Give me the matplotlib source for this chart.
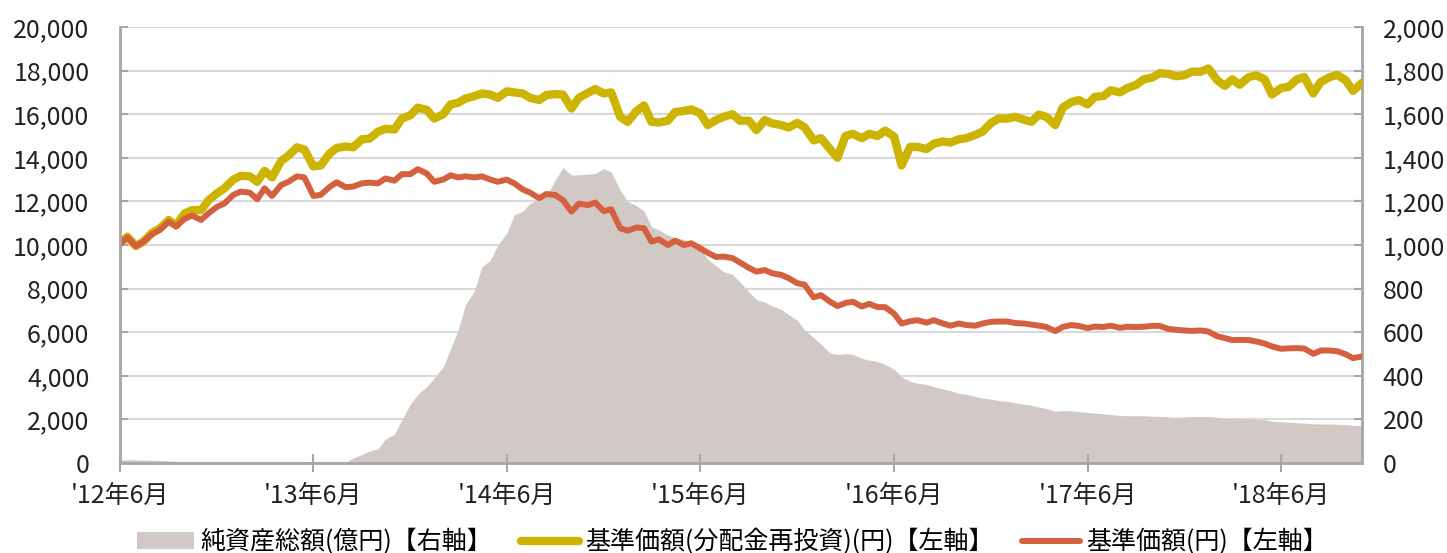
import numpy as np
import pandas as pd
import matplotlib
matplotlib.use("Agg")
import matplotlib.pyplot as plt
from matplotlib.ticker import FuncFormatter, MultipleLocator

plt.rcParams['font.family'] = ['Noto Sans CJK JP', 'DejaVu Sans']

# semi-monthly sampling, Jun 2012 - Nov 2018
dates = pd.date_range("2012-06-01", periods=155, freq="SMS")

# 基準価額(分配金再投資)(円)  left axis
nav_reinvest = [
    10080, 10380, 9950, 10150, 10570, 10750, 11150, 10900, 11450, 11600,
    11600, 12050, 12370, 12600, 13000, 13170, 13150, 12900, 13400, 13100,
    13850, 14100, 14480, 14380, 13600, 13650, 14180, 14450, 14520, 14480,
    14850, 14880, 15200, 15330, 15300, 15800, 15950, 16300, 16200, 15800,
    16000, 16450, 16520, 16720, 16830, 16950, 16900, 16750, 17050, 17000,
    16950, 16750, 16650, 16880, 16920, 16900, 16260, 16750, 16980, 17150,
    16950, 17000, 15880, 15650, 16150, 16400, 15650, 15620, 15700, 16100,
    16150, 16220, 16050, 15500, 15730, 15880, 16000, 15700, 15700, 15270,
    15730, 15580, 15500, 15390, 15600, 15400, 14800, 14900, 14400, 14000,
    15000, 15100, 14900, 15100, 15000, 15250, 14970, 13650, 14500, 14500,
    14400, 14650, 14750, 14700, 14850, 14900, 15050, 15200, 15600, 15800,
    15800, 15880, 15750, 15650, 15980, 15880, 15500, 16300, 16550, 16650,
    16450, 16800, 16830, 17100, 17000, 17200, 17350, 17600, 17680, 17880,
    17850, 17740, 17790, 17950, 17950, 18100, 17550, 17300, 17600, 17350,
    17700, 17780, 17600, 16900, 17200, 17250, 17600, 17700, 16950, 17480,
    17700, 17800, 17560, 17070, 17440,
]

# 基準価額(円)  left axis
nav = [
    10050, 10350, 9950, 10150, 10500, 10690, 11070, 10850, 11200, 11350,
    11150, 11450, 11750, 11900, 12300, 12450, 12400, 12100, 12600, 12250,
    12750, 12900, 13150, 13100, 12250, 12300, 12650, 12880, 12650, 12680,
    12830, 12860, 12830, 13050, 12950, 13250, 13250, 13480, 13280, 12900,
    13000, 13200, 13100, 13150, 13100, 13150, 13000, 12900, 13000, 12830,
    12550, 12400, 12150, 12340, 12290, 12060, 11530, 11900, 11830, 11950,
    11550, 11640, 10770, 10660, 10800, 10770, 10160, 10260, 10000, 10200,
    10000, 10080, 9850, 9650, 9450, 9470, 9400, 9200, 8950, 8780,
    8850, 8700, 8630, 8480, 8250, 8180, 7600, 7700, 7400, 7200,
    7340, 7400, 7180, 7300, 7150, 7150, 6850, 6400, 6500, 6550,
    6440, 6550, 6400, 6300, 6400, 6330, 6300, 6400, 6480, 6490,
    6490, 6420, 6400, 6350, 6300, 6240, 6050, 6240, 6330, 6290,
    6190, 6260, 6240, 6300, 6200, 6250, 6240, 6250, 6290, 6290,
    6150, 6110, 6080, 6060, 6080, 6030, 5810, 5730, 5640, 5650,
    5640, 5580, 5480, 5350, 5240, 5260, 5270, 5250, 5010, 5160,
    5160, 5130, 4990, 4810, 4890,
]

# 純資産総額(億円)  right axis
net_assets = [
    15, 15, 15, 14, 13, 12, 10, 8, 6, 5,
    4, 3, 3, 2, 2, 2, 2, 2, 2, 2,
    2, 2, 2, 2, 2, 2, 2, 2, 3, 23,
    40, 55, 65, 110, 132, 200, 270, 315, 350, 390,
    440, 525, 610, 725, 790, 900, 930, 1000, 1055, 1138,
    1155, 1192, 1210, 1225, 1300, 1355, 1321, 1322, 1325, 1328,
    1350, 1335, 1252, 1199, 1180, 1155, 1084, 1069, 1045, 1033,
    1025, 1012, 985, 935, 905, 878, 865, 830, 785, 750,
    738, 720, 705, 680, 655, 610, 575, 545, 505, 498,
    502, 499, 480, 472, 465, 452, 430, 395, 375, 366,
    360, 350, 340, 332, 320, 315, 305, 298, 293, 287,
    283, 276, 270, 265, 257, 250, 238, 240, 240, 236,
    232, 229, 226, 222, 218, 217, 217, 217, 215, 214,
    212, 210, 211, 213, 214, 213, 210, 205, 203, 202,
    201, 200, 199, 192, 189, 187, 185, 183, 180, 179,
    179, 178, 176, 173, 171,
]

tick_dates = pd.date_range("2012-06-01", "2018-06-01", freq="12MS")
tick_labels = ["'12年6月", "'13年6月", "'14年6月", "'15年6月",
               "'16年6月", "'17年6月", "'18年6月"]

label_assets = "純資産総額(億円)【右軸】"
label_reinvest = "基準価額(分配金再投資)(円)【左軸】"
label_nav = "基準価額(円)【左軸】"

c_yellow = "#CCB400"
c_red = "#D4603F"
c_area = "#D1C9C6"
c_axis = "#A6A6A6"
c_grid = "#D9D9D9"

fig = plt.figure(figsize=(14.47, 5.53), dpi=100)
ax1 = fig.add_axes([0.0829, 0.1627, 0.8584, 0.7885])
ax2 = ax1.twinx()
ax1.set_zorder(2)
ax2.set_zorder(1)
ax1.patch.set_visible(False)

# area on the right axis
ax2.fill_between(dates, net_assets, 0, color=c_area, linewidth=0, zorder=2,
                 label=label_assets)
ax2.set_ylim(0, 2000)
ax2.yaxis.set_major_locator(MultipleLocator(200))
ax2.yaxis.set_major_formatter(FuncFormatter(lambda v, p: f"{int(v):,}"))
ax2.grid(axis="y", color=c_grid, linewidth=1.5, zorder=0)
ax2.set_axisbelow(True)

# lines on the left axis
ax1.plot(dates, nav_reinvest, color=c_yellow, linewidth=6,
         solid_capstyle="round", solid_joinstyle="round", label=label_reinvest)
ax1.plot(dates, nav, color=c_red, linewidth=4.3,
         solid_capstyle="round", solid_joinstyle="round", label=label_nav)
ax1.set_ylim(0, 20000)
ax1.yaxis.set_major_locator(MultipleLocator(2000))
ax1.yaxis.set_major_formatter(FuncFormatter(lambda v, p: f"{int(v):,}"))
ax1.set_xlim(dates[0], dates[-1])
ax1.set_xticks(tick_dates)
ax1.set_xticklabels(tick_labels)

for ax in (ax1, ax2):
    for s in ax.spines.values():
        s.set_visible(False)
ax1.spines["left"].set_visible(True)
ax1.spines["bottom"].set_visible(True)
ax2.spines["right"].set_visible(True)
for s in (ax1.spines["left"], ax1.spines["bottom"], ax2.spines["right"]):
    s.set_color(c_axis)
    s.set_linewidth(2)

ax1.tick_params(axis="y", direction="in", length=6, width=1.5, color=c_axis,
                labelsize=18, pad=22, labelcolor="#222222")
ax2.tick_params(axis="y", direction="in", length=6, width=1.5, color=c_axis,
                labelsize=18, pad=15, labelcolor="#222222")
ax1.tick_params(axis="x", direction="inout", length=13, width=1.5, color=c_axis,
                labelsize=18, pad=8, labelcolor="#222222")

h2, l2 = ax2.get_legend_handles_labels()
h1, l1 = ax1.get_legend_handles_labels()
fig.legend(h2 + h1, l2 + l1, loc="lower center", bbox_to_anchor=(0.506, -0.045),
           ncol=3, frameon=False, fontsize=18, handlelength=2.3,
           handletextpad=0.25, columnspacing=1.15)

fig.savefig("out.png", dpi=100)
